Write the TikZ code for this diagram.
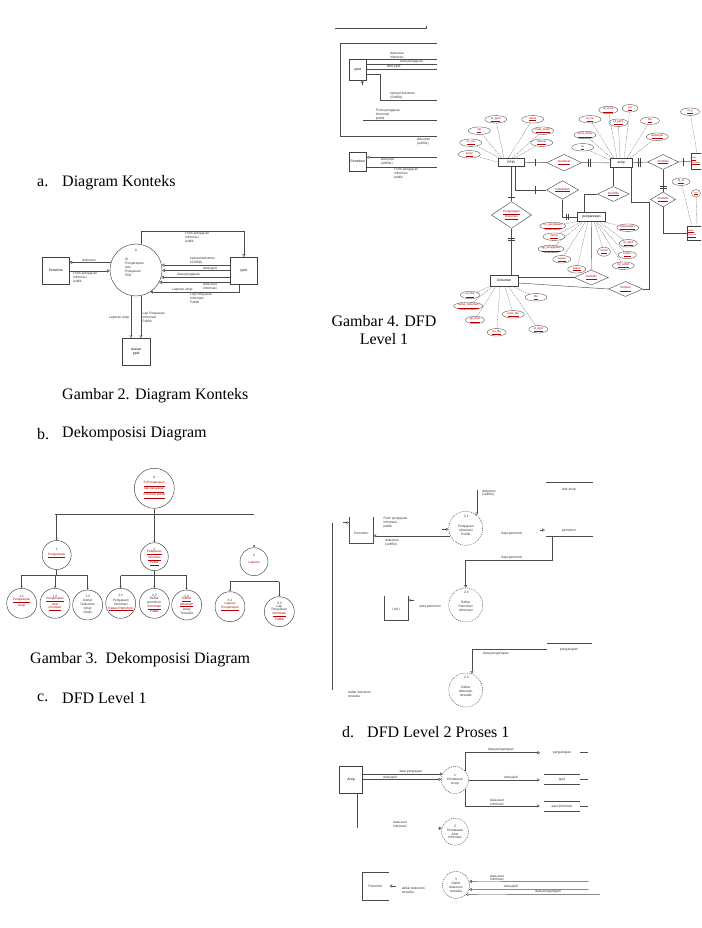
\documentclass[tikz,border=0pt]{standalone}
\usepackage{fontspec}
\setmainfont{Liberation Serif}
\setsansfont{Liberation Sans}
\usetikzlibrary{arrows.meta,shapes.geometric}
\begin{document}
\begin{tikzpicture}[x=1pt,y=-1pt,
  captxt/.style={font=\fontsize{16}{19}\selectfont, inner sep=0, anchor=west},
  captc/.style={font=\fontsize{16}{19}\selectfont, inner sep=0},
  tx/.style={font=\sffamily\fontsize{3.3}{3.9}\selectfont, inner sep=0, align=left, text=black!80},
  txc/.style={tx, align=center},
  rtx/.style={font=\sffamily\fontsize{3.1}{3.7}\selectfont, inner sep=0, align=center, text=red!70!black},
  ln/.style={draw=black!70, line width=0.45pt},
  oa/.style={-{Triangle[open,length=2.6pt,width=3.2pt]}},
  ca/.style={-{Stealth[length=2pt,width=2pt]}},
  ent/.style={rectangle, draw=black!75, line width=0.45pt, inner sep=0, font=\sffamily\fontsize{3.3}{3.9}\selectfont, align=center},
  proc/.style={circle, draw=black!75, line width=0.45pt, inner sep=0},
  dproc/.style={circle, draw=black!75, line width=0.45pt, inner sep=0, dash pattern=on 1pt off 1pt},
  rel/.style={diamond, draw=black!75, line width=0.4pt, inner sep=0, font=\sffamily\fontsize{3}{3.5}\selectfont, text=red!70!black, align=center},
  attr/.style={ellipse, draw=black!70, line width=0.35pt, inner sep=0, minimum width=22, minimum height=7.5, font=\sffamily\fontsize{2.9}{3.4}\selectfont, text=red!70!black},
  al/.style={draw=black!60, line width=0.3pt, dash pattern=on 1.2pt off 0.8pt},
  bar/.style={draw=black!75, line width=0.45pt},
  edgetx/.style={font=\sffamily\fontsize{2}{2.4}\selectfont, inner sep=0, align=left, text=red!70!black}
]
\useasboundingbox (0,0) rectangle (701,928);
\clip (0,0) rectangle (701,928);
\fill[white] (0,0) rectangle (701,928);

% ================= captions =================
\node[captxt] (la) at (37,183) {a.};
\node[captxt] (lat) at (62,183) {Diagram Konteks};
\node[captxt] (g2) at (62,396) {Gambar 2. Diagram Konteks};
\node[captxt] (lb) at (37,434) {b.};
\node[captxt] (lbt) at (62,434) {Dekomposisi Diagram};
\node[captxt] (g3) at (30,660) {Gambar 3.\ \ Dekomposisi Diagram};
\node[captxt] (lc) at (37,698) {c.};
\node[captxt] (lct) at (62,698) {DFD Level 1};
\node[captxt] (ld) at (342,732) {d.};
\node[captxt] (ldt) at (367,732) {DFD Level 2 Proses 1};
\node[captc] (g4a) at (384,321) {Gambar 4. DFD};
\node[captc] (g4b) at (384,339) {Level 1};

% ================= context diagram =================
\node[ent, minimum width=26.6, minimum height=27] (pem0) at (56,270.8) {Pemohon};
\node[proc, minimum size=52] (c0) at (136,270) {};
\node[tx] (c0n) at (136,250.5) {0};
\node[tx, anchor=north west] (c0t) at (125,258) {SI\\Pengarsipan\\dan\\Pelayanan\\PIM};
\node[ent, minimum width=27.7, minimum height=27] (ppid0) at (243.8,270.8) {ppid};
\node[ent, minimum width=27.3, minimum height=26.7] (ats0) at (136.3,351.7) {Atasan\\ppid};

\draw[ln,oa] (c0.163) -- (c0.163 -| pem0.east);
\node[tx, anchor=south] at (89,261.5) {dokumen};
\draw[ln,oa] (pem0.east |- c0.182) -- (c0.182);
\node[tx, anchor=north west] at (73,272.3) {Form pengajuan\\informasi\\publik};

\draw[ln,oa] (c0.79) |- (ppid0.north |- 0,231) -- (ppid0.north);
\node[tx, anchor=north west] at (185,231.8) {Form pengajuan\\informasi\\publik};

\draw[ln,oa] (ppid0.west |- c0.11) -- (c0.11);
\draw[ln,oa] (ppid0.west |- c0.359) -- (c0.359);
\draw[ln,oa] (ppid0.west |- c0.344) -- (c0.344);
\draw[ln,oa] (ppid0.west |- c0.332) -- (c0.332);
\draw[ln,oa] (ppid0.south) ++(-4.5,0) |- (c0.303);
\node[tx, anchor=south west] at (190,264.3) {Upload dokumen\\(Softfile)};
\node[tx, anchor=south west] at (203,270) {data ppid};
\node[tx, anchor=south west] at (177,276.6) {data pengajuan};
\node[tx, anchor=north west] at (203,283) {data aset\\informasi};
\node[tx, anchor=south west] at (172,291.2) {Laporan arsip};
\node[tx, anchor=north west] at (190,292.8) {Lap Pelayanan\\Informasi\\Publik};

\draw[ln,oa] (c0.259) -- (c0.259 |- ats0.north);
\draw[ln,oa] (c0.281) -- (c0.281 |- ats0.north);
\node[tx, anchor=east] at (129.5,318) {Laporan arsip};
\node[tx, anchor=north west] at (142.5,312) {Lap Pelayanan\\Informasi\\Publik};

% ================= decomposition =================
\node[proc, minimum size=40] (d0) at (154.3,488.3) {};
\node[tx] at (154.3,477) {0};
\node[rtx] at (154.3,490) {\underline{SI Pengarsipan}\\\underline{dan pelayanan}\\\underline{informasi publik}};
\draw[ln] (d0.south) -- (154.3,514);
\draw[ln] (55,514) -- (254,514);

\node[proc, minimum size=29] (d1) at (56.7,555) {};
\node[tx] at (56.7,549) {1};
\node[rtx] at (56.7,555.5) {\underline{Pengarsipan}};
\node[proc, minimum size=28] (d2) at (154.3,556.7) {};
\node[tx] at (154.3,549) {2};
\node[rtx] at (154.3,558) {\underline{Pelayanan}\\\underline{Informasi}\\\underline{Publik}};
\node[proc, minimum size=28] (d3) at (254,561.7) {};
\node[tx] at (254,555) {3};
\node[rtx] at (254,562.5) {Laporan};
\draw[ln,ca] (d3.north) ++(0,-2.5) -- (d3.north);
\draw[ln,ca] (56.7,514) -- (d1.north);
\draw[ln,ca] (154.3,514) -- (d2.north);

% group 1
\draw[ln] (d1.south) -- (56.7,575);
\draw[ln] (21.7,575) -- (87.7,575);
\node[proc, minimum size=30] (d11) at (21.7,603.3) {};
\node[proc, minimum size=30] (d12) at (55,603.3) {};
\node[proc, minimum size=30] (d13) at (87.7,605) {};
\draw[ln,ca] (21.7,575) -- (d11.north);
\draw[ln,ca] (55,575) -- (d12.north);
\draw[ln,ca] (87.7,575) -- (d13.north);
\node[tx] at (21.7,596) {1.1};
\node[rtx] at (21.7,602.5) {\underline{Pengarsipan}\\Arsip};
\node[tx] at (55,596) {1.2};
\node[rtx] at (55,604) {\underline{Pengarsipan}\\Aset\\\underline{Informasi}};
\node[tx] at (87.7,596.5) {1.3};
\node[txc] at (87.7,606) {Daftar\\Dokumen\\Arsip\\Vitalis};

% group 2
\draw[ln] (d2.south) -- (154.3,575.7);
\draw[ln] (120.7,575.7) -- (186.7,575.7);
\node[proc, minimum size=30] (d21) at (120.7,603.3) {};
\node[proc, minimum size=30] (d22) at (154.3,603.3) {};
\node[proc, minimum size=30] (d23) at (186.7,605) {};
\draw[ln,ca] (120.7,575.7) -- (d21.north);
\draw[ln,ca] (154.3,575.7) -- (d22.north);
\draw[ln,ca] (186.7,575.7) -- (d23.north);
\node[tx] at (120.7,595.5) {2.1};
\node[txc] at (120.7,605) {Pengajuan\\Informasi\\\textcolor{red!70!black}{\underline{Kasus Pemohon}}};
\node[tx] at (154.3,595.5) {2.2};
\node[txc] at (154.3,605) {Daftar\\pemohon\\\textcolor{red!70!black}{\underline{Informasi}}\\\textcolor{red!70!black}{Publik}};
\node[tx] at (186.7,596.5) {2.3};
\node[txc] at (186.7,606) {\textcolor{red!70!black}{\underline{Daftar}}\\\textcolor{red!70!black}{\underline{dokumen}}\\Arsip\\Tersedia};

% group 3
\draw[ln] (230,581.7) -- (279.3,581.7);
\node[proc, minimum size=30] (d31) at (230,606.7) {};
\node[proc, minimum size=30] (d32) at (279.3,611.7) {};
\draw[ln,ca] (230,581.7) -- (d31.north);
\draw[ln,ca] (279.3,581.7) -- (d32.north);
\node[tx] at (230,600) {3.1};
\node[rtx] at (230,607) {Laporan\\\underline{Pengarsipan}};
\node[tx] at (279.3,603) {3.2};
\node[txc] at (279.3,612.5) {Lap\\Pelayanan\\\textcolor{red!70!black}{\underline{Informasi}}\\\textcolor{red!70!black}{Publik}};

% ================= top right panel (DFD level 1 fragment) =================
\draw[ln] (335,28.3) -- (426.7,28.3) -- (426.7,26);
\draw[ln] (437.3,43.3) -- (340,43.3) -- (340,136.7) -- (437.3,136.7);
\node[ent, minimum width=17.7, minimum height=20.7] (tpp) at (357.8,69.7) {ppid};
\draw[ln,oa] (tpp.south -| 362.3,0) ++(0,5) -- (362.3,80);
\draw[ln] (tpp.east |- 0,59.3) -- (437.3,59.3);
\draw[ln] (tpp.east |- 0,64) -- (437.3,64);
\draw[ln] (tpp.east |- 0,69.3) -- (437.3,69.3);
\draw[ln] (tpp.east |- 0,74) -- (380,74) -- (380,100) -- (437.3,100);
\node[tx, anchor=south west] at (390,58.5) {data aset\\informasi};
\node[tx, anchor=south west] at (400,63.5) {data pengajuan};
\node[tx, anchor=south west] at (386.7,68.8) {data ppid};
\node[tx, anchor=south west] at (390,99.4) {Upload dokumen\\(Softfile)};
\draw[ln] (363.3,120.7) -- (437.3,120.7);
\node[tx, anchor=south west] at (375.7,120.1) {Form pengajuan\\informasi\\publik};
\node[tx, anchor=north west] at (416.7,137.6) {dokumen\\(softfile)};
\node[ent, minimum width=17.7, minimum height=19] (tpm) at (357.8,161.5) {Pemohon};
\draw[ln,oa] (437.3,157.3) -- (tpm.east |- 0,157.3);
\draw[ln] (tpm.east |- 0,167.3) -- (437.3,167.3);
\node[tx, anchor=north west] at (380.7,158.2) {dokumen\\(softfile)};
\node[tx, anchor=north west] at (394,168.2) {Form pengajuan\\informasi\\publik};

% ================= ER diagram =================
\node[ent, minimum width=25.7, minimum height=7.7] (ePPID) at (511.2,162.2) {PPID};
\node[rel, minimum width=35, minimum height=12] (r1) at (564.2,162.7) {\underline{membuat}};
\node[ent, minimum width=22.7, minimum height=9] (eArs) at (621.3,162.8) {arsip};
\node[rel, minimum width=31, minimum height=12] (r2) at (663,162) {\underline{memiliki}};
\node[ent, minimum width=22, minimum height=16, anchor=west] (eJns) at (690.7,161.3) {};
\node[edgetx, anchor=west] (eJnsT) at (691.3,161.3) {\underline{Jenis}\\\underline{Informasi}};
\node[rel, minimum width=32, minimum height=12] (r3) at (562.5,190) {\underline{melakukan}};
\node[rel, minimum width=40, minimum height=23.3] (r4) at (511.5,215) {\underline{Pengarsipan}\\\underline{Dokumen}};
\node[ent, minimum width=28.3, minimum height=11] (eDok) at (504.2,280.5) {Dokumen};
\node[ent, minimum width=27.6, minimum height=8.3] (ePeng) at (591.5,216.8) {pengarsipan};
\node[rel, minimum width=31.7, minimum height=15] (r5) at (613.3,194) {\underline{memiliki}};
\node[rel, minimum width=34.3, minimum height=11.6] (r6) at (591.2,277.5) {\underline{memiliki}};
\node[rel, minimum width=34.4, minimum height=11.7] (r7) at (625.5,289) {\underline{Simpan}};
\node[rel, minimum width=25, minimum height=12.7] (r8) at (663,199.5) {\underline{memiliki}};
\node[ent, minimum width=22, minimum height=14, anchor=west] (eDft) at (686.7,233.7) {};
\node[edgetx, anchor=west] (eDftT) at (688,233.7) {\underline{Daftar}\\\underline{Informasi}};

\draw[ln] (ePPID.east) -- (r1.west);
\draw[ln] (r1.east) -- (eArs.west);
\draw[bar] (535,158.7) -- (535,165.7);
\draw[bar] (588.5,158.7) -- (588.5,166.7);
\draw[bar] (590.5,158.7) -- (590.5,166.7);
\draw[ln] (eArs.east) -- (r2.west);
\draw[bar] (638.5,158) -- (638.5,167);
\draw[bar] (640.5,158) -- (640.5,167);
\draw[ln] (r2.east) -- (eJns.west);
\draw[bar] (683.3,158.3) -- (683.3,165.7);

\draw[ln] (ePPID.south -| 515,0) |- (r3.west);
\draw[bar] (535,186.5) -- (535,193.5);
\draw[ln] (r3.south) |- (ePeng.west);
\draw[bar] (566.7,213.5) -- (566.7,220);
\draw[bar] (568.7,213.5) -- (568.7,220);

\draw[ln] (ePPID.south -| r4.north) -- (r4.north);
\draw[bar] (508,197.3) -- (515,197.3);
\draw[ln] (r4.south) -- (r4.south |- eDok.north);
\draw[bar] (508,238.3) -- (515,238.3);
\draw[bar] (508,240.3) -- (515,240.3);

\draw[ln] (eArs.south -| r5.north) -- (r5.north);
\draw[ln] (r5.west) -- (584.5,194) -- (584.5,212.6);
\draw[ln] (eArs.south -| 631.7,0) -- (631.7,202.7) -- (649.3,202.7) -- (649.3,289) -- (r7.east);
\draw[ln] (ePeng.south) -- (r6.north);
\draw[ln] (eDok.east |- 0,277.5) -- (r6.west);
\draw[ln] (eDok.east |- 0,283) -- (r7.west);

\draw[ln] (r2.south) -- (r8.north);
\draw[bar] (659.5,186.7) -- (666.5,186.7);
\draw[bar] (659.5,188.7) -- (666.5,188.7);
\draw[ln] (r8.south) |- (eDft.west);

% PPID attributes
\node[attr] (p1) at (495.7,119.3) {\underline{id\_ppid}};
\node[attr] (p2) at (532.7,119.3) {\underline{nama}};
\node[attr] (p3) at (479.3,130.7) {\underline{nip}};
\node[attr] (p4) at (542.7,130.7) {\underline{kata\_sandi}};
\node[attr] (p5) at (470.7,142.7) {\underline{no\_hp}};
\node[attr] (p6) at (541.7,142.7) {\underline{alamat}};
\node[attr] (p7) at (469.3,154.3) {\underline{email}};
\draw[al] (p1) -- (504,158.3);
\draw[al] (p2) -- (508,158.3);
\draw[al] (p3) -- (502,158.3);
\draw[al] (p4) -- (512,158.3);
\draw[al] (p5) -- (500,158.3);
\draw[al] (p6) -- (514,158.3);
\draw[al] (p7) -- (ePPID.west);

% arsip attributes
\node[attr] (a1) at (590,119.3) {\underline{id\_ka}};
\node[attr, minimum width=19] (a2) at (608.3,110) {\underline{id\_arsip}};
\node[attr, minimum width=16] (a3) at (630,108.3) {\underline{tgl}};
\node[attr, minimum width=19] (a4) at (618.3,122.7) {\underline{id\_ppid}};
\node[attr, minimum width=19] (a5) at (650,120.7) {\underline{file}};
\node[attr] (a6) at (585,135) {\underline{jenis\_arsip}};
\node[attr] (a7) at (582.7,147.3) {\underline{isi}};
\node[attr] (a8) at (657.3,136.7) {\underline{deskripsi}};
\draw[al] (a1) -- (614,158.3);
\draw[al] (a2) -- (617,158.3);
\draw[al] (a3) -- (624,158.3);
\draw[al] (a4) -- (620,158.3);
\draw[al] (a5) -- (627,158.3);
\draw[al] (a6) -- (612,158.3);
\draw[al] (a7) -- (610,160);
\draw[al] (a8) -- (630,158.3);
\node[attr, minimum width=19] (j1) at (690,111.7) {\underline{id\_ji}};
\draw[al] (j1) -- (697,153.3);
\node[attr, minimum width=18] (f1) at (681,181.7) {\underline{id\_di}};
\node[attr, minimum width=9, font=\sffamily\fontsize{2}{2.4}\selectfont] (f2) at (696,193.3) {\underline{info}};
\draw[al] (f1) -- (692,226.7);
\draw[al] (f2) -- (697,226.7);

% pengarsipan attributes
\node[attr] (q1) at (552.7,226) {\underline{no\_pengajuan}};
\node[attr] (q2) at (554,236.7) {\underline{nama}};
\node[attr] (q3) at (551,249) {\underline{tgl\_pengajuan}};
\node[attr, minimum width=18] (q4) at (561.7,259.3) {\underline{tujuan}};
\node[attr, minimum width=18] (q5) at (576.7,269.3) {\underline{status}};
\node[attr, minimum width=13, minimum height=9] (q6) at (604,251.7) {\underline{email}};
\node[attr] (q7) at (627.7,227.7) {\underline{keterangan}};
\node[attr, minimum width=18] (q8) at (628.3,243.3) {\underline{id\_ppid}};
\node[attr, minimum width=18] (q9) at (627.3,255) {\underline{nama}};
\node[attr] (q10) at (623.3,265.7) {\underline{tgl\_ambil}};
\draw[al] (q1) -- (580,221);
\draw[al] (q2) -- (582,221);
\draw[al] (q3) -- (584,221);
\draw[al] (q4) -- (586,221);
\draw[al] (q5) -- (588,221);
\draw[al] (q6) -- (594,221);
\draw[al] (q7) -- (600,221);
\draw[al] (q8) -- (598,221);
\draw[al] (q9) -- (596,221);
\draw[al] (q10) -- (595,221);

% dokumen attributes
\node[attr, minimum width=19] (k1) at (470,295) {\underline{id\_dok}};
\node[attr, minimum width=27] (k2) at (468.3,306) {\underline{nama\_dokumen}};
\node[attr, minimum width=19] (k3) at (475,320) {\underline{tgl\_buat}};
\node[attr, minimum width=19] (k4) at (496.7,332.3) {\underline{no\_file}};
\node[attr, minimum width=22] (k5) at (513.3,314.3) {\underline{jenis\_file}};
\node[attr, minimum width=22] (k6) at (536,297.3) {\underline{file}};
\node[attr, minimum width=19] (k7) at (538.3,329.3) {\underline{id\_ppid}};
\draw[al] (k1) -- (491,286);
\draw[al] (k2) -- (493,286);
\draw[al] (k3) -- (496,286);
\draw[al] (k4) -- (500,286);
\draw[al] (k5) -- (505,286);
\draw[al] (k6) -- (512,286);
\draw[al] (k7) -- (508,286);

% ================= DFD level 1 =================
\node[inner sep=0, minimum width=24, minimum height=26] (s1) at (361.3,529.7) {};
\draw[ln] (s1.north west) |- (s1.south east) -- (s1.north east);
\node[tx] at (361.3,533) {Pemohon};
\draw[ln] (332.3,522.7) -- (332.3,690);
\draw[ln,oa] (343,522.7) -- (s1.north west |- 0,522.7);
\node[dproc, minimum size=34] (c21) at (465.7,528.3) {};
\node[tx] at (466.5,516) {2.1};
\node[txc] at (465.7,530) {Pengajuan\\Informasi\\Publik};
\draw[ln,oa] (c21.206) -- (c21.206 -| s1.east);
\node[tx, anchor=south west] at (383.3,528) {Form pengajuan\\informasi\\publik};
\node[tx, anchor=north west] at (385,539) {dokumen\\(softfile)};
\draw[ln,oa] (442,529.3) -- (c21.west |- 0,529.3);
\draw[ln,oa] (c21.50 |- 0,490) -- (c21.50);
\node[tx, anchor=north west] at (482,489.5) {dokumen\\(softfile)};
\node[tx] at (512,533.3) {data pemohon};
\draw[ln,oa] (539.5,530) -- (545,530);
\node[tx] (sp2) at (569,530.5) {pemohon};
\draw[ln] (546,536) -- (592.7,536);
\draw[ln] (546,482.7) -- (592.7,482.7);
\node[tx] (sd) at (569,489.3) {dok arsip};
\node[dproc, minimum size=34] (c22) at (465.7,605) {};
\draw[ln,oa] (552.7,536) |- (465.7,560) -- (c22.north);
\node[tx, anchor=south] at (512,559.5) {data pemohon};
\node[tx] at (466.5,592.5) {2.2};
\node[txc] at (465.7,606.5) {Daftar\\Pemohon\\Informasi};
\node[inner sep=0, minimum width=23.7, minimum height=23.3] (s3) at (395.8,608.3) {};
\draw[ln] (s3.north west) |- (s3.south east) -- (s3.north east);
\node[tx] at (395.8,610) {( ttd )};
\draw[ln,oa] (414,600) -- (s3.east |- 0,600);
\node[tx, anchor=west] at (419.5,606.7) {data pemohon};
\draw[ln] (546.7,643.3) -- (592,643.3);
\node[tx] (sg) at (569,649.3) {pengarsipan};
\node[dproc, minimum size=34] (c23) at (465.7,690) {};
\draw[ln,oa] (546.7,649.3) -| (c23.69);
\node[tx, anchor=west] at (483,653.3) {data pengarsipan};
\node[tx] at (466.5,677.5) {2.3};
\node[txc] at (465.7,691.5) {Daftar\\dokumen\\tersedia};
\node[tx, anchor=north west] at (348,691) {daftar dokumen\\tersedia};

% ================= DFD level 2 =================
\node[ent, minimum width=23, minimum height=27] (ar2) at (351.2,779.5) {Arsip};
\draw[ln] (357.3,793) -- (357.3,828);
\node[dproc, minimum size=27] (c11) at (455,780) {};
\node[txc] at (455,780) {1\\Pendataan\\Arsip};
\draw[ln,oa] (ar2.east |- c11.154) -- (c11.154);
\draw[ln,oa] (ar2.east |- c11.177) -- (c11.177);
\node[tx, anchor=south] at (411,773.6) {data pengajuan};
\node[tx, anchor=south west] at (383,779.3) {data ppid};
\draw[ln,oa] (c11.42) |- (540,752.7);
\draw[ln,oa] (c11.east) -- (540,780);
\draw[ln,oa] (c11.318) |- (540,806);
\node[tx, anchor=south west] at (488,751.8) {data pengarsipan};
\node[tx, anchor=south] at (511,779.2) {data ppid};
\node[tx, anchor=south west] at (490,805.5) {data aset\\informasi};
\node[tx] (st1) at (562,752.7) {pengarsipan};
\draw[ln] (580,752.7) -- (588.3,752.7);
\node[tx] (st2) at (562,779.3) {ppid};
\draw[ln] (544.3,774.3) -- (580,774.3);
\draw[ln] (544.3,784.3) -- (580,784.3);
\draw[ln] (580,779.3) -- (588.3,779.3);
\node[tx] (st3) at (562,806.3) {aset informasi};
\draw[ln] (544.3,801.7) -- (580,801.7);
\draw[ln] (544.3,811) -- (580,811);
\draw[ln] (580,806) -- (588.3,806);

\node[tx, anchor=north west] at (393,820.5) {data aset\\informasi};
\node[dproc, minimum size=27] (c12) at (455,831.7) {};
\node[txc] at (455,832) {2\\Pendataan\\Aset\\Informasi};
\draw[ln,oa] (438,828.3) -- (c12.165);

\node[dproc, minimum size=27] (c13) at (456,885) {};
\node[txc] at (456,885.5) {3\\Daftar\\dokumen\\tersedia};
\node[inner sep=0, minimum width=25.6, minimum height=27.3] (p2b) at (375.5,886.3) {};
\draw[ln] (p2b.north east) -- (p2b.north west) -- (p2b.south west) -- (p2b.south east);
\node[tx] at (375.5,886.3) {Pemohon};
\draw[ln,oa] (396,886) -- (389.5,886);
\node[tx, anchor=north west] at (401.7,887) {daftar dokumen\\tersedia};
\draw[ln,oa] (588.3,881.7) -- (c13.15);
\draw[ln,oa] (588.3,889.3) -- (c13.341);
\draw[ln,oa] (600,894.3) -- (c13.316);
\node[tx, anchor=south west] at (490,881.2) {data aset\\informasi};
\node[tx, anchor=south] at (511,888.8) {data ppid};
\node[tx, anchor=south] at (548,893.8) {data pengarsipan};
\end{tikzpicture}
\end{document}
